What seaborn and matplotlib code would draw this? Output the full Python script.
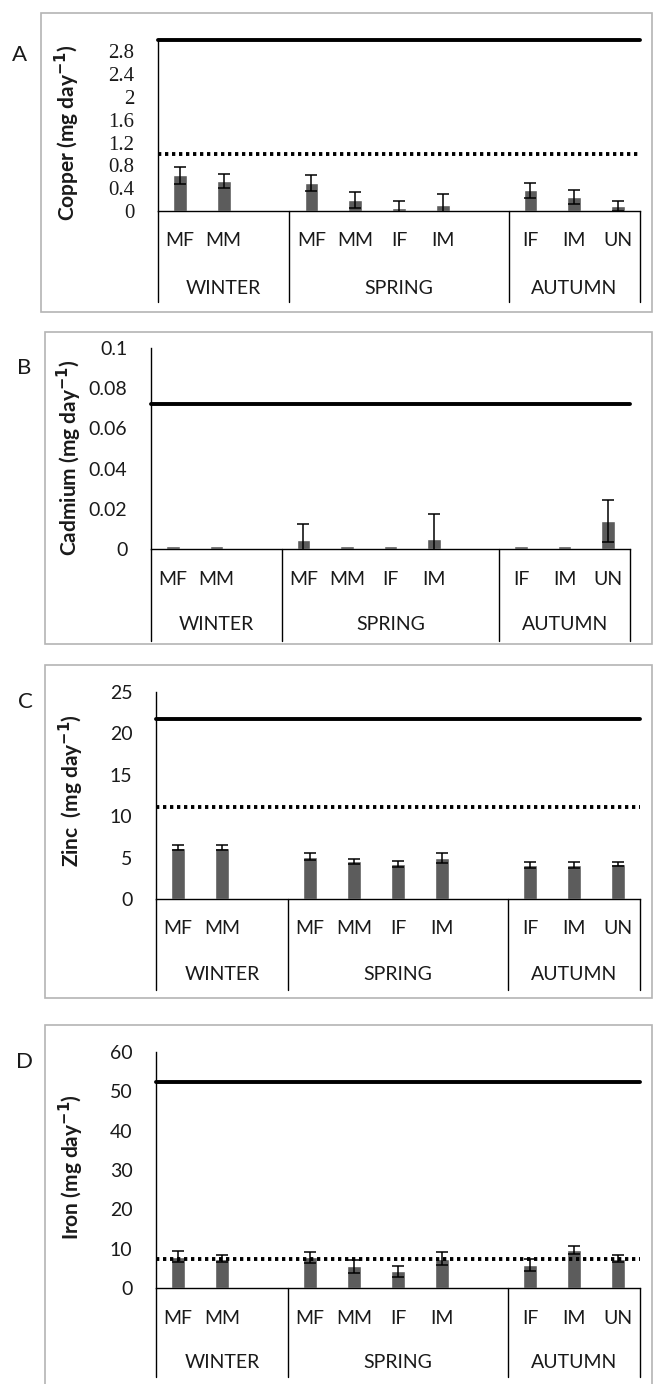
import matplotlib
matplotlib.use("Agg")
import matplotlib.pyplot as plt
import matplotlib.transforms as mtransforms
from matplotlib.patches import Rectangle
import pandas as pd
import seaborn as sns

# categories
seasons = ["WINTER", "SPRING", "AUTUMN"]
season_groups = [["MF", "MM"], ["MF", "MM", "IF", "IM"], ["IF", "IM", "UN"]]

# panel A - copper
copper_mean = [0.63, 0.53, 0.49, 0.19, 0.05, 0.10, 0.36, 0.25, 0.09]
copper_err = [0.15, 0.12, 0.14, 0.14, 0.13, 0.19, 0.14, 0.12, 0.09]
copper_solid = 3.0
copper_dotted = 1.0
copper_ticks = [0, 0.4, 0.8, 1.2, 1.6, 2, 2.4, 2.8]

# panel B - cadmium
cadmium_mean = [0.0016, 0.0016, 0.0043, 0.0016, 0.0016, 0.0051, 0.0016, 0.0016, 0.0139]
cadmium_err = [0, 0, 0.0083, 0, 0, 0.0123, 0, 0, 0.0106]
cadmium_solid = 0.072
cadmium_dotted = None
cadmium_ticks = [0, 0.02, 0.04, 0.06, 0.08, 0.1]

# panel C - zinc
zinc_mean = [6.2, 6.2, 5.1, 4.55, 4.2, 4.9, 4.1, 4.1, 4.2]
zinc_err = [0.3, 0.3, 0.4, 0.32, 0.36, 0.6, 0.32, 0.32, 0.24]
zinc_solid = 21.7
zinc_dotted = 11.1
zinc_ticks = [0, 5, 10, 15, 20, 25]

# panel D - iron
iron_mean = [8.0, 7.5, 7.8, 5.5, 4.3, 7.5, 5.8, 9.6, 7.5]
iron_err = [1.45, 1.0, 1.35, 1.7, 1.4, 1.6, 1.5, 1.0, 0.8]
iron_solid = 52.5
iron_dotted = 7.5
iron_ticks = [0, 10, 20, 30, 40, 50, 60]

W, H = 653, 1384
BAR = "#5c5c5c"
TXT = "#1a1a1a"

sns.set_theme(style="white")
plt.rcParams["font.family"] = ["Lato", "DejaVu Sans"]

# slot order with an empty slot after winter and spring
order, labels, spans = [], [], []
for i, (s, g) in enumerate(zip(seasons, season_groups)):
    start = len(order)
    for c in g:
        order.append(f"{s}_{c}")
        labels.append(c)
    if i < len(seasons) - 1:
        order.append(f"{s}_gap")
        labels.append("")
    spans.append((start - 0.5, len(order) - 0.5))
bar_keys = [k for k in order if not k.endswith("_gap")]

panels = [
    dict(letter="A", ylabel="Copper (mg day$^{\\mathbf{-1}}$)", mean=copper_mean, err=copper_err,
         solid=copper_solid, dotted=copper_dotted, ticks=copper_ticks, ylim=3.0,
         axbox=(158, 40, 640, 211), frame=(41, 13, 652, 312), table=(240, 288, 302),
         ylab=(67, 133), lett=(19, 55), tickfont="Liberation Serif"),
    dict(letter="B", ylabel="Cadmium (mg day$^{\\mathbf{-1}}$)", mean=cadmium_mean, err=cadmium_err,
         solid=cadmium_solid, dotted=cadmium_dotted, ticks=cadmium_ticks, ylim=0.1,
         axbox=(151, 348, 630, 549), frame=(45, 332, 652, 644), table=(580, 624, 641),
         ylab=(69, 458), lett=(24, 368), tickfont=None),
    dict(letter="C", ylabel="Zinc  (mg day$^{\\mathbf{-1}}$)", mean=zinc_mean, err=zinc_err,
         solid=zinc_solid, dotted=zinc_dotted, ticks=zinc_ticks, ylim=25,
         axbox=(156, 692, 640, 899), frame=(45, 665, 652, 998), table=(929, 975, 990),
         ylab=(71, 791), lett=(25, 702), tickfont=None),
    dict(letter="D", ylabel="Iron (mg day$^{\\mathbf{-1}}$)", mean=iron_mean, err=iron_err,
         solid=iron_solid, dotted=iron_dotted, ticks=iron_ticks, ylim=60,
         axbox=(156, 1052, 640, 1288), frame=(45, 1025, 652, 1395), table=(1318, 1362, 1377),
         ylab=(71, 1167), lett=(25, 1062), tickfont=None),
]

fig = plt.figure(figsize=(W / 100, H / 100), dpi=100)


def fy(py):
    return 1 - py / H


for p in panels:
    # grey frame round each panel
    fl, ft, fr, fb = p["frame"]
    fig.add_artist(Rectangle((fl / W, fy(fb)), (fr - fl) / W, (fb - ft) / H,
                             transform=fig.transFigure, fill=False,
                             edgecolor="#b4b4b4", linewidth=1.2))

    l, t, r, b = p["axbox"]
    ax = fig.add_axes([l / W, fy(b), (r - l) / W, (b - t) / H])

    df = pd.DataFrame({"slot": bar_keys, "value": p["mean"], "err": p["err"]})
    sns.barplot(data=df, x="slot", y="value", order=order, color=BAR,
                saturation=1, width=0.31, errorbar=None, ax=ax)
    xpos = [order.index(k) for k in df["slot"]]
    has = df["err"] > 0
    ax.errorbar([x for x, h in zip(xpos, has) if h], df["value"][has], yerr=df["err"][has],
                fmt="none", ecolor="black", elinewidth=1.1, capsize=4.4, capthick=1.1, zorder=4)

    ax.axhline(p["solid"], color="black", linewidth=2.8, clip_on=False, zorder=5)
    if p["dotted"] is not None:
        ax.axhline(p["dotted"], color="black", linewidth=2.8, linestyle=(0, (0.85, 0.95)),
                   dash_capstyle="butt", clip_on=False, zorder=5)

    ax.set_xlim(-0.5, len(order) - 0.5)
    ax.set_ylim(0, p["ylim"])
    ax.set_yticks(p["ticks"])
    ax.set_yticklabels([f"{v:g}" for v in p["ticks"]])
    ax.tick_params(axis="y", length=0, pad=17, labelsize=14, labelcolor=TXT)
    if p["tickfont"]:
        for tl in ax.get_yticklabels():
            tl.set_fontfamily(p["tickfont"])
            tl.set_fontsize(15)
    ax.set_xticks([])
    ax.set_xlabel("")
    ax.set_ylabel("")
    for side in ["top", "right"]:
        ax.spines[side].set_visible(False)
    for side in ["left", "bottom"]:
        ax.spines[side].set_color("black")
        ax.spines[side].set_linewidth(1.0)

    # category table under the axis
    trans = mtransforms.blended_transform_factory(ax.transData, fig.transFigure)
    cy, sy, sb = p["table"]
    for x, lab in enumerate(labels):
        if lab:
            ax.text(x, fy(cy), lab, transform=trans, ha="center", va="center",
                    fontsize=14, color=TXT, clip_on=False)
    edges = sorted(set([e for sp in spans for e in sp]))
    for e in edges:
        ax.plot([e, e], [fy(b), fy(sb)], transform=trans, color="black",
                linewidth=1.0, clip_on=False)
    for s, (x0, x1) in zip(seasons, spans):
        ax.text((x0 + x1) / 2, fy(sy), s, transform=trans, ha="center", va="center",
                fontsize=14, color=TXT, clip_on=False)

    fig.text(p["ylab"][0] / W, fy(p["ylab"][1]), p["ylabel"], rotation=90,
             ha="center", va="center", fontsize=15, fontweight="bold", color=TXT)
    fig.text(p["lett"][0] / W, fy(p["lett"][1]), p["letter"], ha="center", va="center",
             fontsize=16, color=TXT)

fig.savefig("out.png", dpi=100)
